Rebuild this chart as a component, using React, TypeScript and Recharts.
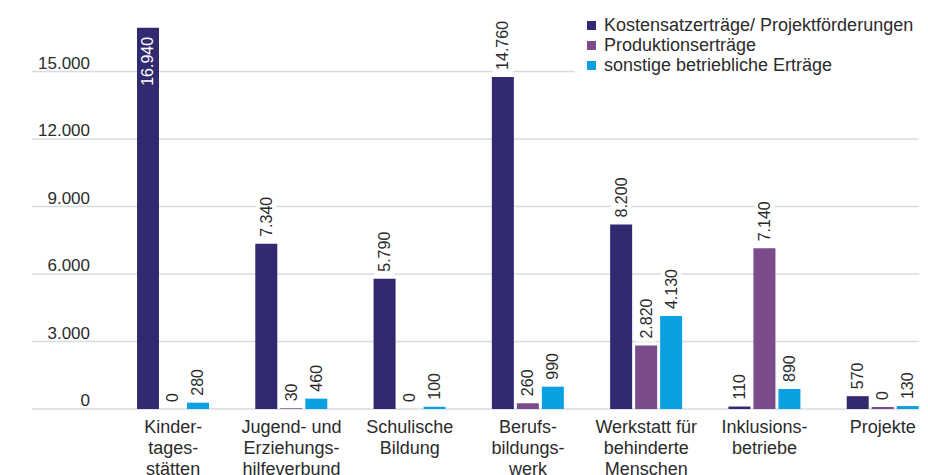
import { BarChart, Bar, XAxis, YAxis, CartesianGrid } from 'recharts'

const categories = ['kita', 'jugend', 'schule', 'bbw', 'wfbm', 'inklusion', 'projekte']
const categoryLines = [
  ['Kinder-', 'tages-', 'stätten'],
  ['Jugend- und', 'Erziehungs-', 'hilfeverbund'],
  ['Schulische', 'Bildung'],
  ['Berufs-', 'bildungs-', 'werk'],
  ['Werkstatt für', 'behinderte', 'Menschen'],
  ['Inklusions-', 'betriebe'],
  ['Projekte'],
]
const kostensatz = [16940, 7340, 5790, 14760, 8200, 110, 570]
const produktion = [0, 30, 0, 260, 2820, 7140, 0]
const sonstige = [280, 460, 100, 990, 4130, 890, 130]
const yTicks = [0, 3000, 6000, 9000, 12000, 15000]

const seriesNames = [
  'Kostensatzerträge/ Projektförderungen',
  'Produktionserträge',
  'sonstige betriebliche Erträge',
]
const colors = ['#312a70', '#7b4b8b', '#0aa0e2']

const data = categories.map((name, i) => ({
  name,
  kostensatz: kostensatz[i],
  produktion: produktion[i],
  sonstige: sonstige[i],
}))

const fmt = (v: number) => String(v).replace(/\B(?=(\d{3})+(?!\d))/g, '.')

const FONT = '"Liberation Sans", Arial, sans-serif'
const TEXT = '#2b2b2b'

// zero bars still need a rect so the "0" label gets drawn; the last one shows a hairline
const zeroSize = (v: any, i: number) => (Number(v) === 0 ? (i === categories.length - 1 ? 2 : 0.01) : 0)

function renderBarLabel(props: any) {
  const { x, y, width, value } = props
  const cx = Number(x) + Number(width) / 2
  const top = Number(y)
  const text = fmt(Number(value))
  if (Number(value) > 16000) {
    const ly = top + 9
    return (
      <text x={cx} y={ly} transform={`rotate(-90 ${cx} ${ly})`} textAnchor="end"
        dominantBaseline="central" fill="#fff" fontSize={16} fontFamily={FONT}>
        {text}
      </text>
    )
  }
  const ly = top - 7
  const w = text.length * 9 + 6
  return (
    <g transform={`rotate(-90 ${cx} ${ly})`}>
      <rect x={cx - 3} y={ly - 10} width={w} height={20} fill="#fff" />
      <text x={cx} y={ly} textAnchor="start" dominantBaseline="central"
        fill={TEXT} fontSize={16} fontFamily={FONT}>
        {text}
      </text>
    </g>
  )
}

function YTick({ y, payload }: any) {
  return (
    <text x={82} y={y - 3} textAnchor="end" fill={TEXT} fontSize={17} fontFamily={FONT}>
      {fmt(payload.value)}
    </text>
  )
}

function XTick({ x, y, payload }: any) {
  const i = categories.indexOf(payload.value)
  const lines = categoryLines[i] || []
  return (
    <text x={x} y={y + 16} textAnchor="middle" fill={TEXT} fontSize={18} fontFamily={FONT}>
      {lines.map((l, k) => (
        <tspan key={k} x={x} dy={k === 0 ? 0 : 21}>{l}</tspan>
      ))}
    </text>
  )
}

export default function App() {
  return (
    <div style={{ position: 'relative', width: 920, height: 467, overflow: 'hidden', fontFamily: FONT }}>
      <BarChart width={940} height={467} data={data}
        margin={{ top: 5, right: 6, left: 46, bottom: 0 }} barSize={22} barGap={3}>
        <CartesianGrid vertical={false} x={24} width={887} horizontalValues={yTicks}
          stroke="#d6dce2" strokeWidth={1.5} />
        <XAxis dataKey="name" axisLine={false} tickLine={false} height={66} interval={0} tick={<XTick />} />
        <YAxis width={60} domain={[0, 17600]} ticks={yTicks} axisLine={false} tickLine={false} tick={<YTick />} />
        <Bar dataKey="kostensatz" fill={colors[0]} isAnimationActive={false} label={renderBarLabel} />
        <Bar dataKey="produktion" fill={colors[1]} isAnimationActive={false} label={renderBarLabel} minPointSize={zeroSize} />
        <Bar dataKey="sonstige" fill={colors[2]} isAnimationActive={false} label={renderBarLabel} />
      </BarChart>
      <div style={{
        position: 'absolute', left: 567, top: 0, paddingLeft: 12, paddingTop: 7, paddingBottom: 6,
        width: 341, background: '#fff', fontSize: 18, color: TEXT, whiteSpace: 'nowrap',
      }}>
        {seriesNames.map((n, i) => (
          <div key={n} style={{ display: 'flex', alignItems: 'center', height: 20 }}>
            <span style={{ width: 9, height: 9, background: colors[i], marginRight: 8, display: 'inline-block' }} />
            <span>{n}</span>
          </div>
        ))}
      </div>
    </div>
  )
}
